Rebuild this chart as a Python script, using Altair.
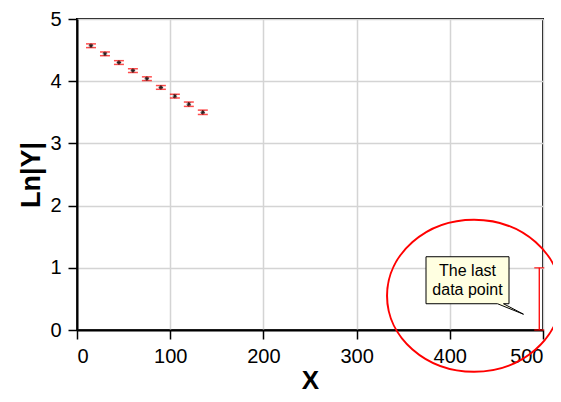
import altair as alt
import pandas as pd

# data
x_vals = [15, 30, 45, 60, 75, 90, 105, 120, 135]
y_vals = [4.57, 4.44, 4.30, 4.17, 4.04, 3.90, 3.76, 3.63, 3.50]
y_err = [0.03, 0.03, 0.03, 0.03, 0.03, 0.03, 0.03, 0.035, 0.035]
last_x = [496]
last_y = [0.5]
last_err = [0.5]

pts = pd.DataFrame({"x": x_vals, "y": y_vals, "e": y_err})
lastdf = pd.DataFrame({"x": last_x, "y": last_y, "e": last_err})
err = pd.concat([pts, lastdf], ignore_index=True)
err["lo"] = err["y"] - err["e"]
err["hi"] = err["y"] + err["e"]
caps = pd.concat([
    pd.DataFrame({"x": err["x"], "y": err["lo"]}),
    pd.DataFrame({"x": err["x"], "y": err["hi"]}),
], ignore_index=True)

# annotation anchor positions (data units)
ellipse_df = pd.DataFrame({"x": [426], "y": [0.55]})
box_df = pd.DataFrame({"x": [419], "y": [0.8]})
text_df = pd.DataFrame({"x": [419], "y": [0.8], "t": [["The last", "data point"]]})

FONT = "Liberation Sans"

xs = alt.Scale(domain=[0, 500], nice=False)
ys = alt.Scale(domain=[0, 5], nice=False)

xaxis = alt.Axis(values=[0, 100, 200, 300, 400, 500], grid=True, format="d",
                 titleBaseline="bottom", titleY=63, titleFontSize=26)
yaxis = alt.Axis(values=[0, 1, 2, 3, 4, 5], grid=True, format="d")

X = alt.X("x:Q", scale=xs, title="X", axis=xaxis)
Y = alt.Y("lo:Q", scale=ys, title="Ln|Y|", axis=yaxis)

rules = alt.Chart(err).mark_rule(color="#ff0000", strokeWidth=1.3, clip=False).encode(
    x=X, y=Y, y2="hi:Q")

capmarks = alt.Chart(caps).mark_tick(color="#ff0000", orient="horizontal",
                                     size=10, thickness=1.5).encode(
    x=alt.X("x:Q", scale=xs, title="X", axis=xaxis),
    y=alt.Y("y:Q", scale=ys, title="Ln|Y|", axis=yaxis))

star = "M -1 0 L 1 0 M 0 -1 L 0 1 M -0.7 -0.7 L 0.7 0.7 M -0.7 0.7 L 0.7 -0.7"
markers = alt.Chart(pts).mark_point(shape=star, size=20, color="#222222",
                                    strokeWidth=1, filled=False, opacity=1).encode(
    x=alt.X("x:Q", scale=xs, title="X", axis=xaxis),
    y=alt.Y("y:Q", scale=ys, title="Ln|Y|", axis=yaxis))

ellipse_path = "M -1 0 A 1 0.874 0 1 0 1 0 A 1 0.874 0 1 0 -1 0 Z"
ellipse = alt.Chart(ellipse_df).mark_point(
    shape=ellipse_path, size=(2 * 87) ** 2, color="#ff0000", filled=False,
    strokeWidth=2, clip=False, opacity=1).encode(
    x=alt.X("x:Q", scale=xs, title="X", axis=xaxis),
    y=alt.Y("y:Q", scale=ys, title="Ln|Y|", axis=yaxis))

bubble = ("M -0.83 -0.47 L 0.83 -0.47 L 0.83 0.47 L 0.72 0.47 L 1.12 0.68 "
          "L 0.60 0.47 L -0.83 0.47 Z")
box = alt.Chart(box_df).mark_point(
    shape=bubble, size=10000, fill="#ffffe1", fillOpacity=1, stroke="black",
    strokeWidth=1, filled=False, opacity=1).encode(
    x=alt.X("x:Q", scale=xs, title="X", axis=xaxis),
    y=alt.Y("y:Q", scale=ys, title="Ln|Y|", axis=yaxis))

label = alt.Chart(text_df).mark_text(
    font=FONT, fontSize=16, color="black", lineHeight=19,
    align="center", baseline="middle", dy=-9).encode(
    x=alt.X("x:Q", scale=xs, title="X", axis=xaxis),
    y=alt.Y("y:Q", scale=ys, title="Ln|Y|", axis=yaxis),
    text="t")

chart = alt.layer(rules, capmarks, markers, box, label, ellipse).properties(
    width=466, height=311,
    autosize=alt.AutoSizeParams(type="none"),
    padding={"left": 69, "top": 11, "right": 10, "bottom": 64},
    background="white",
).configure_view(
    stroke="black", strokeWidth=2
).configure_axis(
    domainColor="black", domainWidth=2, tickColor="black", tickSize=9,
    tickWidth=1.5, gridColor="#d4d4d4", gridWidth=1.5,
    labelFont=FONT, labelFontSize=20, labelColor="black", labelPadding=7,
    titleFont=FONT, titleFontSize=27, titleFontWeight="bold", titleColor="black",
).configure_axisY(titlePadding=4)

chart.save("out.html", embed_options={"renderer": "svg", "actions": False})
